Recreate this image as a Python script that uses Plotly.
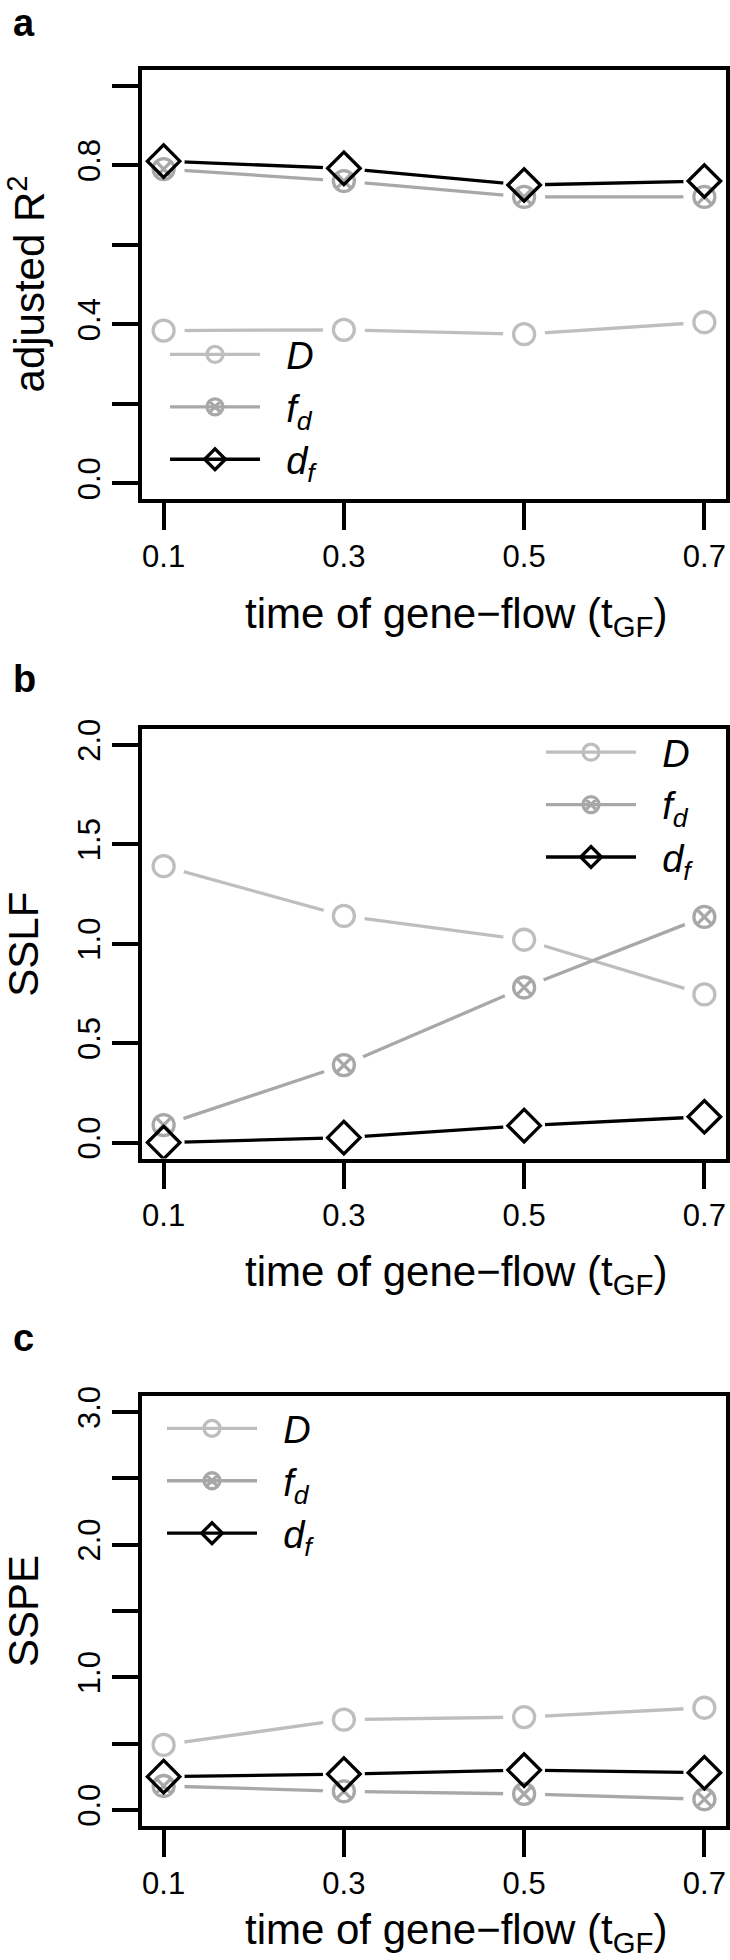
import plotly.graph_objects as go

# ---------------- data ----------------
t_gf = [0.1, 0.3, 0.5, 0.7]
x_tick_text = ["0.1", "0.3", "0.5", "0.7"]

# panel a: adjusted R^2
r2_D = [0.384, 0.386, 0.375, 0.405]
r2_fd = [0.79, 0.76, 0.72, 0.72]
r2_df = [0.81, 0.792, 0.75, 0.76]
r2_tickvals = [0.0, 0.4, 0.8]
r2_ticktext = ["0.0", "0.4", "0.8"]
r2_minor_step = 0.2

# panel b: SSLF
sslf_D = [1.39, 1.14, 1.02, 0.745]
sslf_fd = [0.088, 0.39, 0.78, 1.135]
sslf_df = [0.0, 0.025, 0.085, 0.13]
sslf_tickvals = [0.0, 0.5, 1.0, 1.5, 2.0]
sslf_ticktext = ["0.0", "0.5", "1.0", "1.5", "2.0"]
sslf_minor_step = 0.5

# panel c: SSPE
sspe_D = [0.49, 0.68, 0.70, 0.77]
sspe_fd = [0.18, 0.14, 0.12, 0.08]
sspe_df = [0.25, 0.27, 0.30, 0.28]
sspe_tickvals = [0.0, 1.0, 2.0, 3.0]
sspe_ticktext = ["0.0", "1.0", "2.0", "3.0"]
sspe_minor_step = 0.5

series_names = ["<i>D</i>", "<i>f<sub>d</sub></i>", "<i>d<sub>f</sub></i>"]

# ---------------- styling ----------------
W, H = 730, 1960
FONT = "Liberation Sans, Arial, Helvetica, sans-serif"
COLORS = ["#BEBEBE", "#A8A8A8", "#000000"]
SYMBOLS = ["circle-open", "circle-x-open", "diamond-open"]
SIZES = [21, 21, 25]
LW = 3.3
NBSP = "\u00a0\u00a0"

X_DOM = [142 / W, 726 / W]
PANELS = [
    dict(top=60, bottom=492, yr=[-0.04, 1.04], vals=r2_tickvals, text=r2_ticktext,
         minor=r2_minor_step,
         data=[r2_D, r2_fd, r2_df], ytitle="adjusted R<sup>2</sup>", ytx=27, label="a",
         xt_base=625, lab_base=26, leg=dict(x=165, y=315)),
    dict(top=723, bottom=1155, yr=[-0.08, 2.08], vals=sslf_tickvals, text=sslf_ticktext,
         minor=sslf_minor_step,
         data=[sslf_D, sslf_fd, sslf_df], ytitle="SSLF", ytx=24, label="b",
         xt_base=1287, lab_base=686, leg=dict(x=541, y=715)),
    dict(top=1394, bottom=1826, yr=[-0.12, 3.12], vals=sspe_tickvals, text=sspe_ticktext,
         minor=sspe_minor_step,
         data=[sspe_D, sspe_fd, sspe_df], ytitle="SSPE", ytx=24, label="c",
         xt_base=1948, lab_base=1348, leg=dict(x=162, y=1395)),
]

fig = go.Figure()
layout = dict(
    width=W, height=H,
    margin=dict(l=0, r=0, t=0, b=0),
    paper_bgcolor="white", plot_bgcolor="white",
    font=dict(family=FONT, color="black"),
    annotations=[],
)

for i, p in enumerate(PANELS):
    sfx = "" if i == 0 else str(i + 1)
    xa, ya = "x" + sfx, "y" + sfx
    leg = "legend" + sfx
    for k in range(3):
        fig.add_trace(go.Scatter(x=t_gf, y=p["data"][k], mode="lines", xaxis=xa, yaxis=ya,
                                 line=dict(color=COLORS[k], width=LW), showlegend=False,
                                 hoverinfo="skip"))
    # white gaps round the points (as in R type="b")
    for k in range(3):
        fig.add_trace(go.Scatter(x=t_gf, y=p["data"][k], mode="markers", xaxis=xa, yaxis=ya,
                                 marker=dict(symbol="circle", size=42, color="white",
                                             line=dict(width=0)),
                                 showlegend=False, hoverinfo="skip"))
    for k in range(3):
        fig.add_trace(go.Scatter(x=t_gf, y=p["data"][k], mode="markers", xaxis=xa, yaxis=ya,
                                 marker=dict(symbol=SYMBOLS[k], size=SIZES[k], color=COLORS[k],
                                             line=dict(width=LW, color=COLORS[k])),
                                 showlegend=False))
    for k in range(3):
        fig.add_trace(go.Scatter(x=[None], y=[None], mode="lines+markers", xaxis=xa, yaxis=ya,
                                 name=NBSP + series_names[k], legend=leg,
                                 line=dict(color=COLORS[k], width=LW),
                                 marker=dict(symbol=SYMBOLS[k], size=SIZES[k], color=COLORS[k],
                                             line=dict(width=LW, color=COLORS[k]))))

    ydom = [1 - p["bottom"] / H, 1 - p["top"] / H]
    layout["xaxis" + sfx] = dict(
        domain=X_DOM, anchor=ya, range=[0.076, 0.724],
        tickmode="array", tickvals=t_gf, ticktext=x_tick_text,
        ticks="outside", ticklen=27, tickwidth=3.5, tickcolor="black",
        showline=True, linewidth=3.5, linecolor="black", mirror=True,
        showgrid=False, zeroline=False,
        tickfont=dict(family=FONT, size=31, color="black"),
    )
    layout["yaxis" + sfx] = dict(
        domain=ydom, anchor=xa, range=p["yr"],
        tickmode="array", tickvals=p["vals"], ticktext=p["text"], tickangle=-90,
        ticks="outside", ticklen=26, tickwidth=3.5, tickcolor="black",
        minor=dict(tick0=0, dtick=p["minor"], ticks="outside", ticklen=26,
                   tickwidth=3.5, tickcolor="black", showgrid=False),
        showline=True, linewidth=3.5, linecolor="black", mirror=True,
        showgrid=False, zeroline=False,
        tickfont=dict(family=FONT, size=31, color="black"),
    )
    layout[leg] = dict(
        x=p["leg"]["x"] / W, y=1 - p["leg"]["y"] / H, xanchor="left", yanchor="top",
        bgcolor="rgba(0,0,0,0)", borderwidth=0,
        font=dict(family=FONT, size=38, color="black"),
        tracegroupgap=0, itemwidth=90,
    )
    layout["annotations"].append(dict(
        text=p["ytitle"], xref="paper", yref="paper",
        x=p["ytx"] / W, y=1 - ((p["top"] + p["bottom"]) / 2) / H,
        xanchor="center", yanchor="middle", textangle=-90, showarrow=False,
        font=dict(family=FONT, size=42, color="black"),
    ))
    layout["annotations"].append(dict(
        text="time of gene\u2212flow (t<sub>GF</sub>)", xref="paper", yref="paper",
        x=243 / W, y=1 - (p["xt_base"] - 15) / H,
        xanchor="left", yanchor="middle", showarrow=False,
        font=dict(family=FONT, size=42, color="black"),
    ))
    layout["annotations"].append(dict(
        text="<b>%s</b>" % p["label"], xref="paper", yref="paper",
        x=11 / W, y=1 - (p["lab_base"] - 13) / H,
        xanchor="left", yanchor="middle", showarrow=False,
        font=dict(family=FONT, size=38, color="black"),
    ))

fig.update_layout(**layout)
fig.write_html("out.html", config={"displayModeBar": False},
               post_script="document.body.style.margin='0';document.body.style.overflow='hidden';")
